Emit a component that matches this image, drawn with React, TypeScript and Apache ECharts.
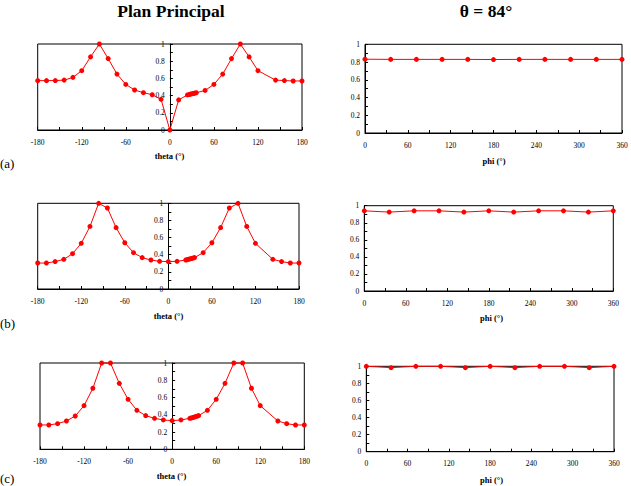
import React, { useEffect, useRef } from "react";
import * as echarts from "echarts";

// Principal plane scan: theta in degrees
const thetaDeg = [
  -180, -168, -156, -144, -132, -120, -108, -96, -84, -72, -60, -48, -36, -24, -12, 0,
  12, 24, 26, 28, 30, 32, 34, 36, 48, 60, 72, 84, 96, 108, 120, 144, 156, 168, 180,
];

const thetaA = [
  0.574, 0.574, 0.575, 0.58, 0.612, 0.69, 0.85, 1.0, 0.83, 0.65, 0.53, 0.465, 0.434, 0.41, 0.357, 0,
  0.35, 0.408, 0.412, 0.417, 0.42, 0.424, 0.429, 0.433, 0.46, 0.53, 0.65, 0.83, 1.0, 0.85, 0.69, 0.58, 0.575, 0.57, 0.57,
];
const thetaB = [
  0.303, 0.303, 0.32, 0.346, 0.412, 0.533, 0.73, 1.0, 0.945, 0.716, 0.54, 0.424, 0.366, 0.338, 0.323, 0.32,
  0.323, 0.338, 0.343, 0.347, 0.352, 0.356, 0.361, 0.366, 0.424, 0.54, 0.716, 0.945, 1.0, 0.73, 0.533, 0.346, 0.32, 0.303, 0.303,
];
const thetaC = [
  0.282, 0.282, 0.297, 0.328, 0.386, 0.506, 0.707, 1.0, 1.0, 0.764, 0.579, 0.452, 0.39, 0.359, 0.34, 0.332,
  0.34, 0.359, 0.363, 0.368, 0.373, 0.378, 0.384, 0.39, 0.452, 0.579, 0.764, 1.0, 1.0, 0.707, 0.506, 0.328, 0.297, 0.282, 0.282,
];

// Azimuthal scan at theta = 84°
const phiDeg = [0, 36, 72, 108, 144, 180, 216, 252, 288, 324, 360];
const phiA = [0.832, 0.83, 0.83, 0.83, 0.83, 0.828, 0.83, 0.83, 0.83, 0.83, 0.83];
const phiB = [0.94, 0.925, 0.94, 0.94, 0.925, 0.94, 0.925, 0.94, 0.94, 0.925, 0.94];
const phiC = [1.0, 0.984, 1.0, 1.0, 0.984, 1.0, 0.984, 1.0, 1.0, 0.984, 1.0];

const FONT = "'Liberation Serif', 'Times New Roman', serif";
const RED = "#ff0000";

const yFmt = (v: number) => {
  const r = Math.round(v * 10);
  if (r % 2 !== 0) return "";
  if (r === 10) return "1";
  if (r === 0) return "0";
  return (r / 10).toString();
};
const xFmt = (v: number) => (Math.round(v) % 60 === 0 ? String(Math.round(v)) : "");

const grids = [
  { left: 37.7, top: 44, width: 264.3, height: 86 },
  { left: 365, top: 44.3, width: 257, height: 88.7 },
  { left: 37.7, top: 203.3, width: 261.3, height: 85.7 },
  { left: 364.3, top: 205.7, width: 249, height: 85.3 },
  { left: 40, top: 363, width: 264.3, height: 86.3 },
  { left: 366.3, top: 366.3, width: 247.7, height: 85.4 },
];

export default function App() {
  const ref = useRef<HTMLDivElement>(null);

  useEffect(() => {
    if (!ref.current) return;
    const chart = echarts.init(ref.current, null, { renderer: "svg" });

    const isTheta = (i: number) => i % 2 === 0;
    const thetaSets = [thetaA, thetaB, thetaC];
    const phiSets = [phiA, phiB, phiC];

    const axisLabel = { fontFamily: FONT, fontSize: 7.5, color: "#000" };

    const xAxis = grids.map((_, i) => ({
      type: "value",
      gridIndex: i,
      min: isTheta(i) ? -180 : 0,
      max: isTheta(i) ? 180 : 360,
      interval: 30,
      axisLine: { show: true, onZero: false, lineStyle: { color: "#000", width: 1 } },
      axisTick: { show: true, inside: true, length: 3, lineStyle: { color: "#000" } },
      axisLabel: { ...axisLabel, margin: 8, formatter: xFmt, showMinLabel: true, showMaxLabel: true },
      splitLine: { show: false },
    }));

    // theta panels carry their value axis at theta = 0, i.e. half-way across the grid
    const yAxis = grids.map((g, i) => ({
      type: "value",
      gridIndex: i,
      min: 0,
      max: 1,
      interval: 0.1,
      position: "left",
      offset: isTheta(i) ? -g.width / 2 : 0,
      axisLine: { show: true, onZero: false, lineStyle: { color: "#000", width: 1 } },
      axisTick: { show: true, inside: true, length: 3, lineStyle: { color: "#000" } },
      axisLabel: { ...axisLabel, margin: 5, formatter: yFmt },
      splitLine: { show: false },
    }));

    const series = grids.map((_, i) => {
      const k = Math.floor(i / 2);
      const xs = isTheta(i) ? thetaDeg : phiDeg;
      const ys = isTheta(i) ? thetaSets[k] : phiSets[k];
      return {
        type: "line",
        xAxisIndex: i,
        yAxisIndex: i,
        data: xs.map((x, j) => [x, ys[j]]),
        symbol: "circle",
        symbolSize: 5,
        itemStyle: { color: RED },
        lineStyle: { color: RED, width: 1 },
        clip: false,
        z: 3,
      };
    });

    const txt = (x: number, y: number, text: string, size: number, bold: boolean, align = "center") => ({
      type: "text",
      x,
      y,
      style: {
        text,
        fontFamily: FONT,
        fontSize: size,
        fontWeight: bold ? "bold" : "normal",
        fill: "#000",
        textAlign: align,
        textVerticalAlign: "middle",
      },
    });

    chart.setOption({
      animation: false,
      backgroundColor: "#fff",
      grid: grids.map((g) => ({ ...g, show: true, borderColor: "#000", borderWidth: 1, containLabel: false })),
      xAxis,
      yAxis,
      series,
      graphic: [
        txt(171, 11, "Plan Principal", 17.5, true),
        txt(486, 11, "θ = 84°", 17.5, true),
        txt(169.5, 156, "theta (°)", 8.5, true),
        txt(168.5, 316, "theta (°)", 8.5, true),
        txt(171.5, 476, "theta (°)", 8.5, true),
        txt(494, 161, "phi (°)", 8.5, true),
        txt(491.5, 318, "phi (°)", 8.5, true),
        txt(491.5, 479.5, "phi (°)", 8.5, true),
        txt(0, 163, "(a)", 13, false, "left"),
        txt(0, 323, "(b)", 13, false, "left"),
        txt(0, 478, "(c)", 13, false, "left"),
      ],
    });

    return () => chart.dispose();
  }, []);

  return (
    <div
      ref={ref}
      style={{ position: "absolute", left: 0, top: 0, width: 631, height: 486, background: "#fff" }}
    />
  );
}
